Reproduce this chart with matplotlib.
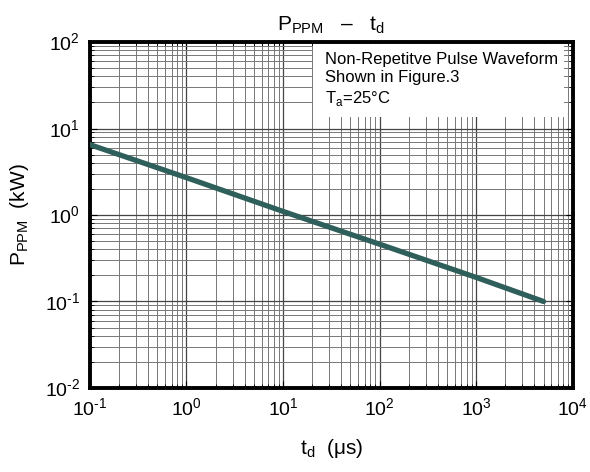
#!/usr/bin/env python3

import matplotlib.pyplot as plt
from matplotlib.patches import Rectangle
from matplotlib.ticker import FuncFormatter
import math

plt.rcParams["font.family"] = ["Liberation Sans", "DejaVu Sans"]
plt.rcParams["mathtext.fontset"] = "custom"
plt.rcParams["mathtext.rm"] = "Liberation Sans"

# pulse width (us) vs peak pulse power (kW)
t_d = [0.1, 1, 10, 100, 1000, 5000]
p_ppm = [6.5, 2.7, 1.1, 0.46, 0.19, 0.1]


def pow10(v, pos):
    e = int(round(math.log10(v)))
    if e < 0:
        return r"10$^{\text{-}%d}$" % (-e)
    return r"10$^{%d}$" % e


fig = plt.figure(figsize=(5.9, 4.72), dpi=100)
ax = fig.add_axes([0.1525, 0.178, 0.818, 0.733])

ax.plot(t_d, p_ppm, color="#2f5f5a", lw=3.8, solid_capstyle="round", zorder=5)

ax.set_xscale("log")
ax.set_yscale("log")
ax.set_xlim(0.1, 1e4)
ax.set_ylim(1e-2, 1e2)
ax.xaxis.set_major_formatter(FuncFormatter(pow10))
ax.yaxis.set_major_formatter(FuncFormatter(pow10))

ax.grid(which="major", color="#444444", lw=0.9)
ax.grid(which="minor", color="#777777", lw=0.7)
ax.set_axisbelow(True)

for sp in ax.spines.values():
    sp.set_linewidth(2.8)
    sp.set_color("black")

ax.tick_params(which="both", direction="in", top=True, right=True)
ax.tick_params(which="major", labelsize=14, length=5, pad=7)
ax.tick_params(which="minor", length=3)

# white box behind the note
ax.add_patch(Rectangle((0.463, 0.783), 0.52, 0.212, transform=ax.transAxes,
                       facecolor="white", edgecolor="none", zorder=3))
ax.text(0.488, 0.97,
        "Non-Repetitve Pulse Waveform\nShown in Figure.3\n"
        r"T$_{\mathregular{a}}$=25°C",
        transform=ax.transAxes, ha="left", va="top", fontsize=12,
        linespacing=1.25, zorder=4)

ax.set_title(r"P$_{\mathregular{PPM}}$   –   t$_{\mathregular{d}}$", fontsize=15, pad=8)
ax.set_xlabel(r"t$_{\mathregular{d}}$  (μs)", fontsize=15, labelpad=12)
ax.set_ylabel(r"P$_{\mathregular{PPM}}$  (kW)", fontsize=15, labelpad=10)

fig.savefig("out.png", dpi=100)
